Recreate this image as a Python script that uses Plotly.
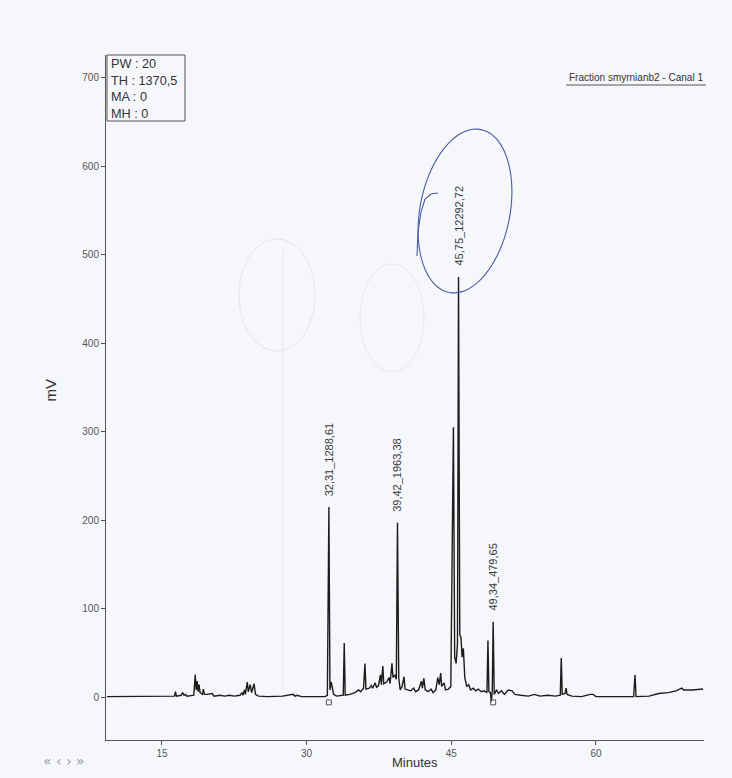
import numpy as np
import plotly.graph_objects as go

# ---------------- data ----------------
time_min = [
    9.3, 13.0, 15.8, 16.3, 16.4, 16.5, 17.0, 17.15, 17.3, 17.45, 17.6,
    18.3, 18.45, 18.55, 18.65, 18.75, 18.85, 18.95, 19.2, 19.3, 19.4, 19.7,
    20.2, 20.4, 21.0, 21.5, 22.0, 22.5, 23.1, 23.3, 23.4, 23.55, 23.65,
    23.85, 23.95, 24.15, 24.3, 24.55, 24.7, 25.0, 26.0, 27.5, 28.6, 28.8,
    29.0, 29.5, 31.9, 32.15, 32.31, 32.42, 32.55, 32.65, 32.8, 33.1, 33.8,
    33.9, 34.0, 34.5, 35.0, 35.4, 35.6, 35.9, 36.05, 36.15, 36.5, 36.7,
    36.85, 37.1, 37.25, 37.45, 37.65, 37.75, 37.9, 38.0, 38.3, 38.55, 38.65,
    38.85, 38.95, 39.15, 39.3, 39.42, 39.55, 39.7, 39.9, 40.1, 40.2, 40.5,
    40.8, 41.1, 41.3, 41.6, 41.9, 42.0, 42.15, 42.3, 42.6, 42.9, 43.1, 43.4,
    43.6, 43.75, 43.9, 44.0, 44.25, 44.4, 44.7, 44.95, 45.22, 45.35, 45.5,
    45.64, 45.75, 45.88, 46.0, 46.12, 46.25, 46.4, 46.6, 46.8, 47.0, 47.3,
    47.5, 47.8, 48.1, 48.4, 48.7, 48.8, 48.9, 49.05, 49.15, 49.25, 49.34,
    49.45, 49.7, 49.9, 50.2, 50.5, 50.9, 51.3, 51.6, 52.2, 53.0, 53.6, 54.2,
    55.0, 55.8, 56.3, 56.4, 56.5, 56.8, 56.9, 57.0, 57.5, 58.5, 59.4, 59.7,
    60.0, 63.9, 64.05, 64.15, 65.5, 66.5, 67.5, 68.3, 68.9, 69.1, 70.0, 71.1,
]
signal_mv = [
    0.5, 0.5, 1, 1, 6, 1, 2, 5, 2, 3, 1,
    2, 25, 8, 18, 6, 14, 5, 3, 9, 3, 3,
    4, 1, 2, 1, 2, 1, 2, 5, 2, 8, 3,
    17, 6, 14, 5, 15, 3, 1, 0.5, 1, 3, 1,
    2, 0.5, 0.5, 2, 215, 8, 17, 10, 3, 1, 2,
    61, 2, 3, 5, 8, 6, 10, 38, 9, 10, 13,
    10, 16, 11, 13, 25, 14, 35, 15, 17, 22, 15,
    38, 22, 25, 20, 197, 22, 8, 12, 23, 9, 8,
    7, 10, 6, 8, 18, 10, 21, 8, 6, 9, 5, 8,
    22, 14, 27, 12, 16, 8, 9, 12, 305, 45, 38,
    60, 475, 70, 68, 45, 55, 22, 12, 14, 8, 10,
    7, 9, 6, 7, 5, 64, 6, 5, -5, 8, 85,
    3, 8, 4, 7, 3, 8, 7, 3, 2, 1, 3, 1,
    2, 1, 2, 44, 3, 4, 10, 3, 1, 0.5, 3, 3,
    0.5, 0.5, 25, 0.5, 1, 4, 5, 7, 10, 8, 8, 9,
]

label_times = [32.31, 39.42, 45.75, 49.34]
label_heights = [215, 197, 475, 85]
label_texts = ["32,31_1288,61", "39,42_1963,38", "45,75_12292,72", "49,34_479,65"]

marker_times = [32.31, 49.34]
marker_values = [-6, -6]

y_ticks = [0, 100, 200, 300, 400, 500, 600, 700]
x_ticks = [15, 30, 45, 60]

info_lines = ["PW : 20", "TH : 1370,5", "MA : 0", "MH : 0"]
title_text = "Fraction smyrnianb2 - Canal 1"

# ---------------- layout geometry ----------------
W, H = 732, 778
L, R, T, B = 106, 28, 55, 38
PW_, PH_ = W - L - R, H - T - B


def px_x(px):
    return (px - L) / PW_


def px_y(py):
    return (H - B - py) / PH_


FONT = "Liberation Sans Narrow, Arimo, Liberation Sans, Arial, sans-serif"
BG = "#f6f7fa"

fig = go.Figure()
fig.add_trace(go.Scatter(
    x=time_min, y=signal_mv, mode="lines",
    line=dict(color="#1c1c1c", width=1.4), hoverinfo="skip", showlegend=False,
))
fig.add_trace(go.Scatter(
    x=marker_times, y=marker_values, mode="markers",
    marker=dict(symbol="square-open", size=5, color="#555", line=dict(width=1)),
    hoverinfo="skip", showlegend=False,
))

annotations = []
for t, h, s in zip(label_times, label_heights, label_texts):
    annotations.append(dict(
        x=t, y=h, xref="x", yref="y", text=s, showarrow=False,
        textangle=-90, xanchor="center", yanchor="bottom", yshift=9,
        font=dict(family=FONT, size=11, color="#3a3a3a"),
    ))

annotations += [
    dict(x=px_x(40), y=px_y(390), xref="paper", yref="paper", text="mV",
         showarrow=False, textangle=-90,
         font=dict(family="Liberation Sans, Arial", size=15, color="#333")),
    dict(x=px_x(415), y=px_y(772), xref="paper", yref="paper", text="Minutes",
         showarrow=False, font=dict(family="Liberation Sans, Arial", size=13, color="#333")),
    dict(x=px_x(64), y=px_y(771), xref="paper", yref="paper", xanchor="center",
         text="« ‹ › »", showarrow=False,
         font=dict(family="DejaVu Sans", size=14, color="#9a9ca3")),
    dict(x=px_x(109), y=px_y(55), xref="paper", yref="paper",
         text="<br>".join(info_lines), showarrow=False, align="left",
         xanchor="left", yanchor="top",
         font=dict(family="Liberation Sans, Arial", size=12.7, color="#333")),
    dict(x=px_x(705), y=px_y(77), xref="paper", yref="paper", text=title_text,
         showarrow=False, xanchor="right", yanchor="middle",
         font=dict(family=FONT, size=10, color="#333")),
]

shapes = [
    dict(type="rect", xref="paper", yref="paper",
         x0=px_x(107), x1=px_x(185), y0=px_y(121), y1=px_y(55),
         line=dict(color="#555", width=1), fillcolor="rgba(0,0,0,0)"),
    dict(type="line", xref="paper", yref="paper",
         x0=px_x(566), x1=px_x(706), y0=px_y(85), y1=px_y(85),
         line=dict(color="#555", width=1)),
    # faint ghost line from the scan
    dict(type="line", xref="paper", yref="paper",
         x0=px_x(283), x1=px_x(283), y0=px_y(690), y1=px_y(250),
         line=dict(color="#e4e6eb", width=1)),
]


def ellipse_path(cx, cy, a, b, ang_deg, n=80):
    th = np.linspace(0, 2 * np.pi, n)
    ang = np.deg2rad(ang_deg)
    xs = cx + a * np.cos(th) * np.cos(ang) - b * np.sin(th) * np.sin(ang)
    ys = cy + a * np.cos(th) * np.sin(ang) + b * np.sin(th) * np.cos(ang)
    pts = [f"{px_x(x):.5f},{px_y(y):.5f}" for x, y in zip(xs, ys)]
    return "M " + " L ".join(pts) + " Z"


# hand-drawn blue ellipse around the main peak label
shapes.append(dict(type="path", xref="paper", yref="paper",
                   path=ellipse_path(465, 211, 45, 83, 11),
                   line=dict(color="#4b5aa6", width=1.1)))
hook = [(438, 193), (431, 194), (425, 199), (421, 212), (418, 232), (417, 256)]
shapes.append(dict(type="path", xref="paper", yref="paper",
                   path="M " + " L ".join(f"{px_x(x):.5f},{px_y(y):.5f}" for x, y in hook),
                   line=dict(color="#4b5aa6", width=1.1)))
# faint erased pencil marks
shapes.append(dict(type="path", xref="paper", yref="paper",
                   path=ellipse_path(277, 295, 38, 56, 0),
                   line=dict(color="#e2e5ea", width=1)))
shapes.append(dict(type="path", xref="paper", yref="paper",
                   path=ellipse_path(392, 318, 32, 54, 0),
                   line=dict(color="#e4e7ec", width=1)))

fig.update_layout(
    width=W, height=H,
    margin=dict(l=L, r=R, t=T, b=B, pad=0),
    paper_bgcolor=BG, plot_bgcolor=BG,
    showlegend=False,
    annotations=annotations, shapes=shapes,
    xaxis=dict(range=[9.2, 71.2], tickvals=x_ticks, ticks="outside", ticklen=4,
               tickcolor="#555", showline=True, linecolor="#555", linewidth=1,
               showgrid=False, zeroline=False,
               tickfont=dict(family=FONT, size=10, color="#555")),
    yaxis=dict(range=[-48.6, 726], tickvals=y_ticks, ticks="outside", ticklen=4,
               tickcolor="#555", showline=True, linecolor="#555", linewidth=1,
               showgrid=False, zeroline=False,
               tickfont=dict(family=FONT, size=10, color="#555")),
)

fig.write_html("out.html")
